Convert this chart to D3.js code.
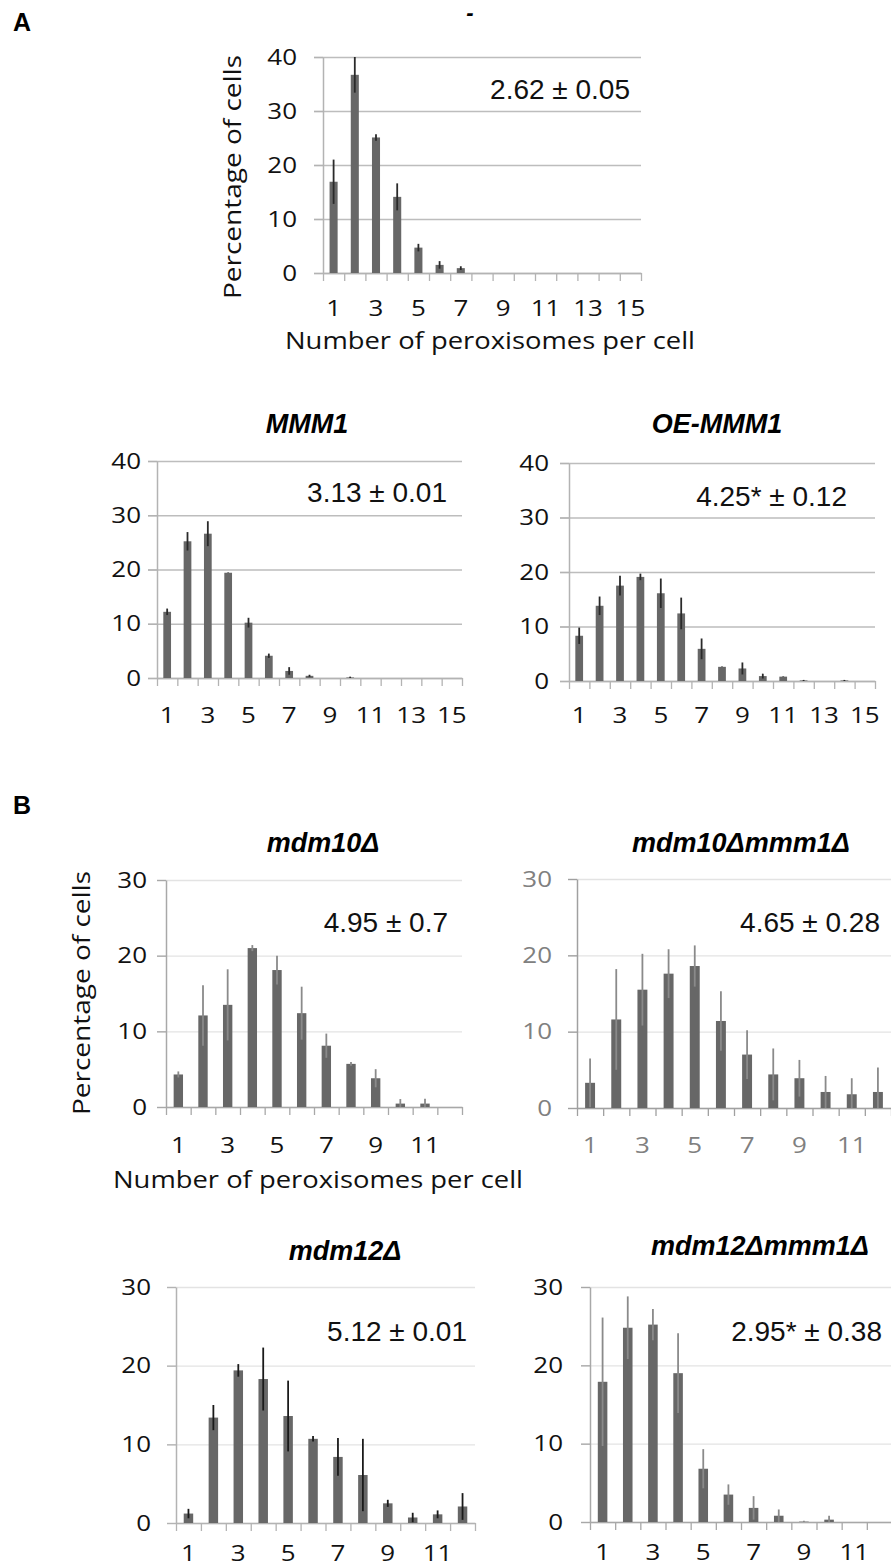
<!DOCTYPE html>
<html lang="en">
<head>
<meta charset="UTF-8">
<title>Number of peroxisomes per cell</title>
<script src="https://d3js.org/d3.v7.min.js"></script>
<style>
    body { margin: 0; background: #fff; }
    svg { display: block; }
    .tick text { font-family: "Open Sans", sans-serif; font-size: 22px; }
    .panel-title { font-family: "Liberation Sans", Arial, sans-serif; font-size: 27px; font-weight: bold; font-style: italic; }
    .mean-label { font-family: "Liberation Sans", Arial, sans-serif; font-size: 28px; fill: #111; }
    .axis-title { font-family: "Open Sans", sans-serif; font-size: 24px; fill: #111; }
    .fig-letter { font-family: "Liberation Sans", Arial, sans-serif; font-size: 25px; font-weight: bold; }
</style>
</head>
<body>
<svg id="chart" width="891" height="1568"></svg>
<script>
// categories: number of peroxisomes per cell
const cats15 = [1, 2, 3, 4, 5, 6, 7, 8, 9, 10, 11, 12, 13, 14, 15];
const cats12 = [1, 2, 3, 4, 5, 6, 7, 8, 9, 10, 11, 12];
const ticks40 = [0, 10, 20, 30, 40];
const ticks30 = [0, 10, 20, 30];

// percentage of cells (mean) and error (+/-)
const wtMean   = [16.9, 36.7, 25.1, 14.1, 4.7, 1.5, 0.9, 0, 0, 0, 0, 0, 0, 0, 0];
const wtErr    = [4.1, 3.3, 0.6, 2.5, 0.7, 0.7, 0.35, 0, 0, 0, 0, 0, 0, 0, 0];
const mmm1Mean = [12.2, 25.2, 26.6, 19.4, 10.2, 4.1, 1.3, 0.4, 0, 0.1, 0, 0, 0, 0, 0];
const mmm1Err  = [0.6, 1.7, 2.3, 0.05, 0.9, 0.4, 0.7, 0.2, 0, 0.15, 0, 0, 0, 0, 0];
const oeMean   = [8.3, 13.8, 17.5, 19.1, 16.1, 12.4, 5.9, 2.6, 2.3, 0.9, 0.8, 0.1, 0, 0.1, 0];
const oeErr    = [1.5, 1.7, 1.8, 0.6, 2.7, 2.9, 1.9, 0.05, 1.1, 0.45, 0.05, 0.1, 0, 0.1, 0];
const m10Mean  = [4.3, 12.1, 13.5, 21.0, 18.1, 12.4, 8.1, 5.7, 3.8, 0.45, 0.45, 0];
const m10Err   = [0.4, 4.0, 4.7, 0.4, 1.9, 3.5, 1.6, 0.25, 1.2, 0.6, 0.65, 0];
const m10m1Mean = [3.3, 11.6, 15.5, 17.6, 18.6, 11.4, 7.0, 4.4, 3.9, 2.1, 1.8, 2.1];
const m10m1Err  = [3.2, 6.6, 4.7, 3.2, 2.7, 3.9, 3.2, 3.4, 2.4, 2.1, 2.1, 3.2];
const m12Mean  = [1.2, 13.4, 19.4, 18.3, 13.6, 10.7, 8.4, 6.1, 2.5, 0.7, 1.1, 2.1];
const m12Err   = [0.6, 1.6, 0.8, 4.0, 4.5, 0.35, 2.4, 4.6, 0.45, 0.6, 0.5, 1.7];
const m12m1Mean = [17.9, 24.8, 25.2, 19.0, 6.8, 3.5, 1.8, 0.8, 0.05, 0.3, 0, 0];
const m12m1Err  = [8.2, 4.0, 2.0, 5.1, 2.5, 1.3, 1.5, 0.8, 0.1, 0.5, 0, 0];

const meanLabels = ["2.62 \u00b1 0.05", "3.13 \u00b1 0.01", "4.25* \u00b1 0.12",
                    "4.95 \u00b1 0.7", "4.65 \u00b1 0.28", "5.12 \u00b1 0.01", "2.95* \u00b1 0.38"];
const titles = ["-", "MMM1", "OE-MMM1", "mdm10\u0394", "mdm10\u0394mmm1\u0394", "mdm12\u0394", "mdm12\u0394mmm1\u0394"];

const barColor = "#676767";
const stretch = 1.18;   // tick digits in the figure are wider than the font

const panels = [
    { cats: cats15, mean: wtMean, err: wtErr, yTicks: ticks40,
      x: 323, y: 57, w: 318, h: 216, titleX: 470, titleY: 20, labelX: 630, labelY: 99,
      tickY: 35, yGap: 26, grid: "#bdbdbd", axis: "#b3b3b3", text: "#111", errColor: "#2a2a2a",
      yTitle: [233, 177], xTitle: [490, 341] },
    { cats: cats15, mean: mmm1Mean, err: mmm1Err, yTicks: ticks40,
      x: 157, y: 461, w: 305, h: 217, titleX: 307, titleY: 433, labelX: 447, labelY: 502,
      tickY: 37, yGap: 16, grid: "#bdbdbd", axis: "#b3b3b3", text: "#111", errColor: "#2a2a2a" },
    { cats: cats15, mean: oeMean, err: oeErr, yTicks: ticks40,
      x: 569, y: 463, w: 306, h: 218, titleX: 717, titleY: 433, labelX: 847, labelY: 506,
      tickY: 34, yGap: 20, grid: "#bdbdbd", axis: "#b3b3b3", text: "#111", errColor: "#2a2a2a" },
    { cats: cats12, mean: m10Mean, err: m10Err, yTicks: ticks30,
      x: 166, y: 880, w: 296, h: 227, titleX: 323, titleY: 852, labelX: 448, labelY: 932,
      tickY: 38, yGap: 19, grid: "#e3e3e3", axis: "#a8a8a8", text: "#111", errColor: "#8a8a8a",
      yTitle: [82, 993], xTitle: [318, 1180] },
    { cats: cats12, mean: m10m1Mean, err: m10m1Err, yTicks: ticks30,
      x: 577, y: 879, w: 314, h: 229, titleX: 741, titleY: 852, labelX: 880, labelY: 932,
      tickY: 37, yGap: 25, grid: "#e3e3e3", axis: "#a0a0a0", text: "#808080", errColor: "#8a8a8a" },
    { cats: cats12, mean: m12Mean, err: m12Err, yTicks: ticks30,
      x: 176, y: 1287, w: 299, h: 236, titleX: 345, titleY: 1260, labelX: 467, labelY: 1341,
      tickY: 30, yGap: 25, grid: "#e3e3e3", axis: "#b3b3b3", text: "#111", errColor: "#1a1a1a" },
    { cats: cats12, mean: m12m1Mean, err: m12m1Err, yTicks: ticks30,
      x: 590, y: 1287, w: 302, h: 235, titleX: 760, titleY: 1255, labelX: 882, labelY: 1341,
      tickY: 30, yGap: 27, grid: "#e3e3e3", axis: "#a8a8a8", text: "#111", errColor: "#8a8a8a" }
];

const svg = d3.select("#chart");

svg.append("text").attr("class", "fig-letter").attr("x", 13).attr("y", 31).text("A");
svg.append("text").attr("class", "fig-letter").attr("x", 13).attr("y", 814).text("B");

panels.forEach((p, i) => {
    const g = svg.append("g").attr("transform", `translate(${p.x},${p.y})`);
    const yMax = d3.max(p.yTicks);
    const n = p.cats.length;

    const x = d3.scaleBand().domain(p.cats).range([0, p.w]).paddingInner(0.62).paddingOuter(0.31);
    const edge = d3.scaleLinear().domain([0, n]).range([0, p.w]);
    const y = d3.scaleLinear().domain([0, yMax]).range([p.h, 0]);

    // horizontal gridlines (start a little left of the axis, like the tick marks)
    g.append("g")
        .attr("transform", "translate(-9,0)")
        .call(d3.axisRight(y).tickValues(p.yTicks).tickSize(p.w + 9).tickFormat(""))
        .call(a => a.select(".domain").remove())
        .call(a => a.selectAll("line").attr("stroke", p.grid).attr("stroke-width", 1.3));

    // short tick stubs left of the axis in the axis colour
    g.append("g")
        .call(d3.axisLeft(y).tickValues(p.yTicks).tickSize(9).tickSizeOuter(0).tickFormat(""))
        .call(a => a.select(".domain").attr("stroke", p.axis).attr("stroke-width", 1.5))
        .call(a => a.selectAll("line").attr("stroke", p.axis).attr("stroke-width", 1.3));

    // y tick labels
    g.append("g")
        .call(d3.axisLeft(y).tickValues(p.yTicks).tickSize(0).tickPadding(p.yGap / stretch))
        .call(a => a.select(".domain").remove())
        .call(a => a.selectAll("text").attr("fill", p.text).attr("transform", `scale(${stretch},1)`));

    // x axis baseline with tick marks at the category boundaries
    g.append("g")
        .attr("transform", `translate(0,${p.h})`)
        .call(d3.axisBottom(edge).tickValues(d3.range(0, n + 1)).tickSize(8).tickSizeOuter(0).tickFormat(""))
        .call(a => a.select(".domain").attr("stroke", p.axis).attr("stroke-width", 1.5))
        .call(a => a.selectAll("line").attr("stroke", p.axis).attr("stroke-width", 1.3));

    // x labels on odd categories
    g.append("g")
        .attr("transform", `translate(0,${p.h})`)
        .call(d3.axisBottom(x).tickSize(0).tickFormat(d => d % 2 ? d : ""))
        .call(a => a.select(".domain").remove())
        .call(a => a.selectAll("text").attr("y", p.tickY).attr("dy", "0.35em").attr("fill", p.text)
            .attr("transform", `scale(${stretch},1)`));

    const rows = p.cats.map((c, k) => ({ c, v: p.mean[k], e: p.err[k] }));

    g.selectAll("rect.bar")
        .data(rows.filter(d => d.v > 0))
        .join("rect")
        .attr("class", "bar")
        .attr("x", d => x(d.c))
        .attr("width", x.bandwidth())
        .attr("y", d => y(d.v))
        .attr("height", d => y(0) - y(d.v))
        .attr("fill", barColor);

    g.selectAll("line.err")
        .data(rows.filter(d => d.e > 0))
        .join("line")
        .attr("class", "err")
        .attr("x1", d => x(d.c) + x.bandwidth() / 2)
        .attr("x2", d => x(d.c) + x.bandwidth() / 2)
        .attr("y1", d => y(Math.max(0, d.v - d.e)))
        .attr("y2", d => y(Math.min(yMax, d.v + d.e)))
        .attr("stroke", p.errColor)
        .attr("stroke-width", 1.8);

    // titles and mean labels sit in page coordinates
    svg.append("text")
        .attr("class", "panel-title")
        .attr("x", p.titleX).attr("y", p.titleY)
        .attr("text-anchor", "middle")
        .style("font-size", i === 0 ? "22px" : null)
        .text(titles[i]);

    svg.append("text")
        .attr("class", "mean-label")
        .attr("x", p.labelX).attr("y", p.labelY)
        .attr("text-anchor", "end")
        .text(meanLabels[i]);

    if (p.yTitle) {
        svg.append("text")
            .attr("class", "axis-title")
            .attr("transform", `translate(${p.yTitle[0]},${p.yTitle[1]}) rotate(-90)`)
            .attr("text-anchor", "middle")
            .attr("dy", "0.35em")
            .attr("textLength", 244)
            .attr("lengthAdjust", "spacingAndGlyphs")
            .text("Percentage of cells");
    }
    if (p.xTitle) {
        svg.append("text")
            .attr("class", "axis-title")
            .attr("x", p.xTitle[0]).attr("y", p.xTitle[1])
            .attr("text-anchor", "middle")
            .attr("dy", "0.35em")
            .attr("textLength", 410)
            .attr("lengthAdjust", "spacingAndGlyphs")
            .text("Number of peroxisomes per cell");
    }
});
</script>
</body>
</html>
